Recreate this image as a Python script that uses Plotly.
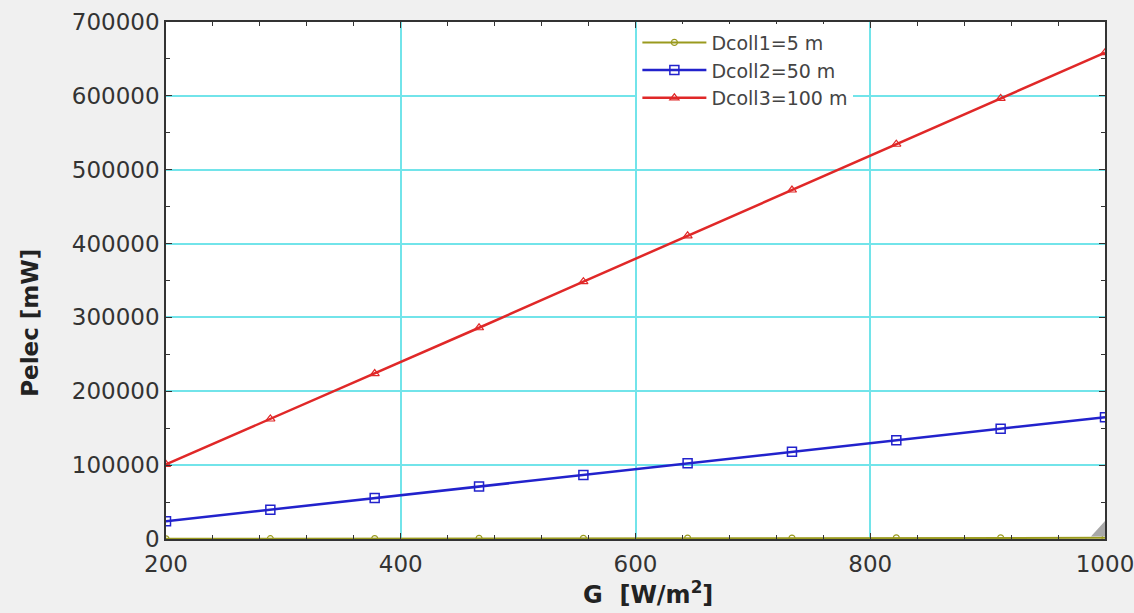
import plotly.graph_objects as go

# Solar irradiance G [W/m^2] at the sampled points
G = [200, 288.9, 377.8, 466.7, 555.6, 644.4, 733.3, 822.2, 911.1, 1000]

# Electrical power [mW] for three collector diameters
p_dcoll1 = [240, 420, 600, 780, 960, 1140, 1300, 1480, 1650, 1650]
p_dcoll2 = [24000, 39700, 55400, 71000, 86700, 102400, 118000, 133700, 149400, 165000]
p_dcoll3 = [101000, 162500, 224000, 286000, 348500, 410500, 472500, 534500, 596500, 658500]

series_names = ["Dcoll1=5 m", "Dcoll2=50 m", "Dcoll3=100 m"]

x_ticks = [200, 400, 600, 800, 1000]
y_ticks = [0, 100000, 200000, 300000, 400000, 500000, 600000, 700000]

FONT = "DejaVu Sans, Liberation Sans, Arial, sans-serif"

fig = go.Figure()

fig.add_trace(go.Scatter(
    x=G, y=p_dcoll1, name=series_names[0], mode="lines+markers",
    line=dict(color="#9a9a1e", width=2),
    marker=dict(symbol="circle-open", size=6, color="#9a9a1e", line=dict(width=1.2)),
))
fig.add_trace(go.Scatter(
    x=G, y=p_dcoll2, name=series_names[1], mode="lines+markers",
    line=dict(color="#2222cc", width=2.5),
    marker=dict(symbol="square-open", size=9, color="#2222cc", line=dict(width=1.5)),
))
fig.add_trace(go.Scatter(
    x=G, y=p_dcoll3, name=series_names[2], mode="lines+markers",
    line=dict(color="#e02828", width=2.5),
    marker=dict(symbol="triangle-up-open", size=8, color="#e02828", line=dict(width=1.2)),
))

axis_common = dict(
    showline=True, linecolor="#333333", linewidth=1.5, mirror="ticks",
    ticks="inside", ticklen=6, tickcolor="#333333",
    showgrid=True, gridcolor="#72e4ea", gridwidth=2,
    zeroline=False, tickformat="d", ticklabeloverflow="allow",
    tickfont=dict(family=FONT, size=23, color="#333333"),
)

fig.update_xaxes(
    range=[200, 1000], tickvals=x_ticks, ticklabelstandoff=4,
    minor=dict(dtick=40, ticks="inside", ticklen=4, tickcolor="#333333", showgrid=False),
    **axis_common,
)
fig.update_yaxes(
    range=[0, 700000], tickvals=y_ticks,
    minor=dict(dtick=50000, ticks="inside", ticklen=4, tickcolor="#333333", showgrid=False),
    **axis_common,
)

fig.update_layout(
    width=1134, height=613,
    margin=dict(l=166, r=29, t=22, b=74, autoexpand=False),
    paper_bgcolor="#f0f0f0", plot_bgcolor="#ffffff",
    showlegend=True,
    legend=dict(
        x=0.502, y=0.997, xanchor="left", yanchor="top",
        bgcolor="rgba(255,255,255,1)", borderwidth=0,
        font=dict(family=FONT, size=19, color="#444444"),
        itemwidth=64, tracegroupgap=0,
    ),
    annotations=[
        dict(text="<b>G  [W/m<sup>2</sup>]</b>", xref="paper", yref="paper",
             x=0.513, y=-0.104, xanchor="center", yanchor="middle", showarrow=False,
             font=dict(family=FONT, size=24, color="#222222")),
        dict(text="<b>Pelec [mW]</b>", xref="paper", yref="paper",
             x=-0.145, y=0.418, xanchor="center", yanchor="middle", showarrow=False,
             textangle=-90,
             font=dict(family=FONT, size=23, color="#222222")),
    ],
    shapes=[
        # small grey resize grip in the lower-right corner of the plot
        dict(type="path", xref="paper", yref="paper",
             path="M 0.985 0.005 L 1.0 0.005 L 1.0 0.035 Z",
             fillcolor="#a8a8a8", line=dict(width=0)),
    ],
)

fig.write_html("out.html")
